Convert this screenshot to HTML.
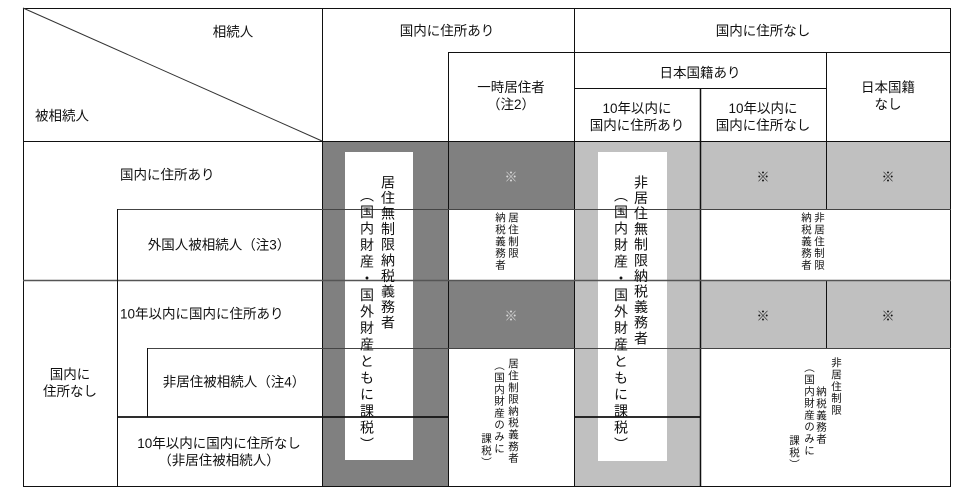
<!DOCTYPE html>
<html><head><meta charset="utf-8"><style>
body{margin:0;width:956px;height:502px;background:#fff;position:relative;overflow:hidden;font-family:"Liberation Sans","Noto Sans CJK JP",sans-serif;color:#111}
svg{position:absolute;left:0;top:0}
.t{position:absolute;font-size:13.5px;line-height:17px;white-space:nowrap;text-align:center;transform:translate(-50%,-50%)}
.l{position:absolute;font-size:13.5px;line-height:17px;white-space:nowrap;transform:translateY(-50%)}
.v{position:absolute;writing-mode:vertical-rl;font-size:14px;line-height:14px;letter-spacing:1.6px;white-space:nowrap}
.s{position:absolute;writing-mode:vertical-rl;font-size:10.5px;line-height:11px;letter-spacing:1.3px;white-space:nowrap}
.k{position:absolute;font-size:13px;transform:translate(-50%,-50%)}
</style></head><body>
<svg width="956" height="502" xmlns="http://www.w3.org/2000/svg">
<rect x="322" y="141" width="126" height="346" fill="#808080"/>
<rect x="448" y="141" width="126" height="68" fill="#808080"/>
<rect x="448" y="280" width="126" height="68" fill="#808080"/>
<rect x="574" y="141" width="126" height="346" fill="#c0c0c0"/>
<rect x="700" y="141" width="251" height="68" fill="#c0c0c0"/>
<rect x="700" y="280" width="251" height="68" fill="#c0c0c0"/>
<rect x="345" y="152" width="68" height="308" fill="#fff"/>
<rect x="598" y="152" width="69" height="309" fill="#fff"/>
<g stroke="#111" stroke-width="1" fill="none">
<rect x="23.5" y="8.5" width="927" height="478"/>
<line x1="23" y1="8" x2="322" y2="141" stroke="#333"/>
<line x1="322.5" y1="8" x2="322.5" y2="487"/>
<line x1="448.5" y1="52" x2="448.5" y2="487"/>
<line x1="574.5" y1="8" x2="574.5" y2="487"/>
<line x1="700.5" y1="88" x2="700.5" y2="487" stroke-width="1.5"/>
<line x1="826.5" y1="52" x2="826.5" y2="209"/>
<line x1="826.5" y1="280" x2="826.5" y2="348"/>
<line x1="448" y1="52.5" x2="951" y2="52.5"/>
<line x1="574" y1="88.5" x2="826" y2="88.5"/>
<line x1="23" y1="141.5" x2="951" y2="141.5"/>
<line x1="117" y1="209.5" x2="951" y2="209.5" stroke="#444"/>
<line x1="23" y1="280.5" x2="951" y2="280.5" stroke="#555" stroke-width="1.5"/>
<line x1="147" y1="348.5" x2="951" y2="348.5" stroke="#444"/>
<line x1="117" y1="417" x2="448" y2="417" stroke-width="1.8"/>
<line x1="574" y1="417" x2="700" y2="417" stroke-width="1.8"/>
<line x1="117.5" y1="209" x2="117.5" y2="487"/>
<line x1="147.5" y1="348" x2="147.5" y2="417"/>
</g>
</svg>
<div class="t" style="left:233px;top:32px">相続人</div>
<div class="l" style="left:35px;top:116px">被相続人</div>
<div class="t" style="left:447px;top:31px">国内に住所あり</div>
<div class="t" style="left:763px;top:31px">国内に住所なし</div>
<div class="t" style="left:511px;top:96px">一時居住者<br>（注2）</div>
<div class="t" style="left:700px;top:73px">日本国籍あり</div>
<div class="t" style="left:888px;top:96px">日本国籍<br>なし</div>
<div class="t" style="left:637px;top:117px">10年以内に<br>国内に住所あり</div>
<div class="t" style="left:763px;top:117px">10年以内に<br>国内に住所なし</div>
<div class="l" style="left:120px;top:175px">国内に住所あり</div>
<div class="t" style="left:219px;top:245px">外国人被相続人（注3）</div>
<div class="l" style="left:120px;top:314px">10年以内に国内に住所あり</div>
<div class="t" style="left:70px;top:383px">国内に<br>住所なし</div>
<div class="t" style="left:234px;top:382px">非居住被相続人（注4）</div>
<div class="t" style="left:219px;top:452px">10年以内に国内に住所なし<br>（非居住被相続人）</div>
<div class="k" style="left:511px;top:176px;color:#ddd">※</div>
<div class="k" style="left:511px;top:315px;color:#ddd">※</div>
<div class="k" style="left:763px;top:176px">※</div>
<div class="k" style="left:888px;top:176px">※</div>
<div class="k" style="left:763px;top:315px">※</div>
<div class="k" style="left:888px;top:315px">※</div>
<div class="v" style="left:381px;top:175px">居住無制限納税義務者</div>
<div class="v" style="left:360px;top:188px;letter-spacing:2.6px">（国内財産・国外財産ともに課税）</div>
<div class="v" style="left:634px;top:175px">非居住無制限納税義務者</div>
<div class="v" style="left:614px;top:188px;letter-spacing:2.6px">（国内財産・国外財産ともに課税）</div>
<div class="s" style="left:507px;top:212px">居住制限</div>
<div class="s" style="left:494px;top:212px">納税義務者</div>
<div class="s" style="left:813px;top:212px">非居住制限</div>
<div class="s" style="left:800px;top:212px">納税義務者</div>
<div class="s" style="left:507px;top:358px">居住制限納税義務者</div>
<div class="s" style="left:493px;top:360px">（国内財産のみに</div>
<div class="s" style="left:480px;top:433px">課税）</div>
<div class="s" style="left:830px;top:357px">非居住制限</div>
<div class="s" style="left:815px;top:386px">納税義務者</div>
<div class="s" style="left:803px;top:362px">（国内財産のみに</div>
<div class="s" style="left:788px;top:435px">課税）</div>
</body></html>
